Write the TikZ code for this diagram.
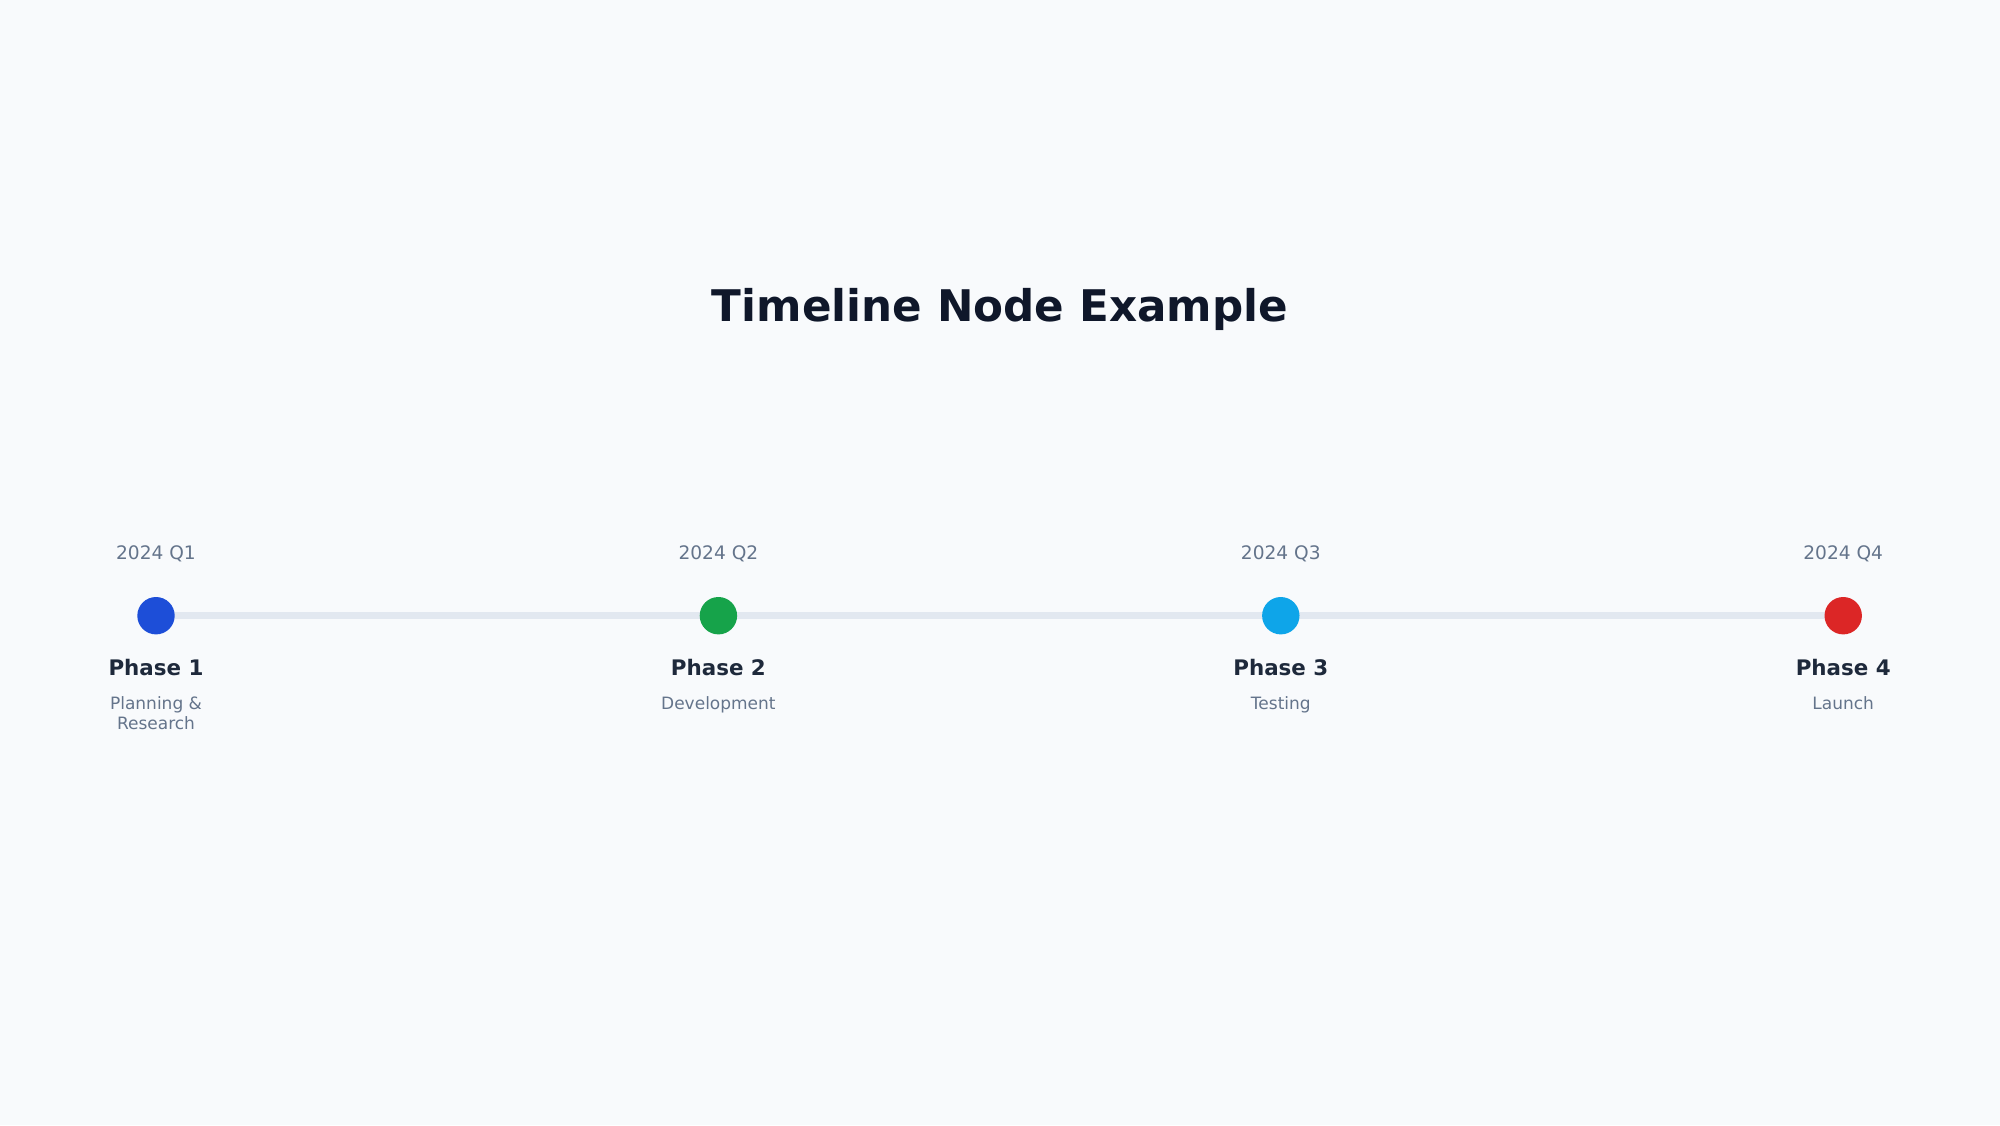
\documentclass[tikz,border=0pt]{standalone}
\usepackage{fontspec}
\setmainfont{DejaVu Sans}
\usetikzlibrary{positioning}

\definecolor{pagebg}{HTML}{F8FAFC}
\definecolor{trackgray}{HTML}{E2E8F0}
\definecolor{titleink}{HTML}{0F172A}
\definecolor{phaseink}{HTML}{1E293B}
\definecolor{slate}{HTML}{64748B}
\definecolor{q1blue}{HTML}{1D4ED8}
\definecolor{q2green}{HTML}{16A34A}
\definecolor{q3sky}{HTML}{0EA5E9}
\definecolor{q4red}{HTML}{DC2626}

\pgfdeclarelayer{back}
\pgfdeclarelayer{track}
\pgfsetlayers{back,track,main}

\begin{document}
\begin{tikzpicture}[x=0.5pt,y=-0.5pt,
		phasedot/.style={circle, fill=#1, minimum size=18.7pt, inner sep=0pt},
		datelabel/.style={text=slate, font=\fontsize{9.3}{11}\selectfont, inner sep=0pt},
		phasetitle/.style={text=phaseink, font=\bfseries\fontsize{10.7}{13}\selectfont, inner sep=0pt},
		phasedesc/.style={text=slate, font=\fontsize{8.5}{10.35}\selectfont, align=center, inner sep=0pt},
		node distance=281.2pt, on grid]
		\begin{pgfonlayer}{back}
			\fill[pagebg] (0,0) rectangle (2000,1125);
		\end{pgfonlayer}
		\useasboundingbox (0,0) rectangle (2000,1125);

		\node[text=titleink, font=\bfseries\fontsize{21.8}{26}\selectfont, inner sep=0pt, anchor=base] (title) at (1000,321.8) {Timeline Node Example};

		% milestones
		\node[phasedot=q1blue] (p1) at (156,615.7) {};
		\node[phasedot=q2green, right=of p1] (p2) {};
		\node[phasedot=q3sky, right=of p2] (p3) {};
		\node[phasedot=q4red, right=of p3] (p4) {};

		\begin{pgfonlayer}{track}
			\draw[trackgray, line width=3.35pt] (p1.center) -- (p4.center);
		\end{pgfonlayer}

		% dates
		\node[datelabel, above=27.9pt of p1, anchor=base] (d1) {2024 Q1};
		\node[datelabel, above=27.9pt of p2, anchor=base] (d2) {2024 Q2};
		\node[datelabel, above=27.9pt of p3, anchor=base] (d3) {2024 Q3};
		\node[datelabel, above=27.9pt of p4, anchor=base] (d4) {2024 Q4};

		% titles
		\node[phasetitle, below=30pt of p1, anchor=base] (t1) {Phase 1};
		\node[phasetitle, below=30pt of p2, anchor=base] (t2) {Phase 2};
		\node[phasetitle, below=30pt of p3, anchor=base] (t3) {Phase 3};
		\node[phasetitle, below=30pt of p4, anchor=base] (t4) {Phase 4};

		% descriptions
		\node[phasedesc, below=40.1pt of p1, anchor=north] (s1) {Planning \&\\Research};
		\node[phasedesc, below=40.1pt of p2, anchor=north] (s2) {Development};
		\node[phasedesc, below=40.1pt of p3, anchor=north] (s3) {Testing};
		\node[phasedesc, below=40.1pt of p4, anchor=north] (s4) {Launch};
	\end{tikzpicture}
\end{document}
